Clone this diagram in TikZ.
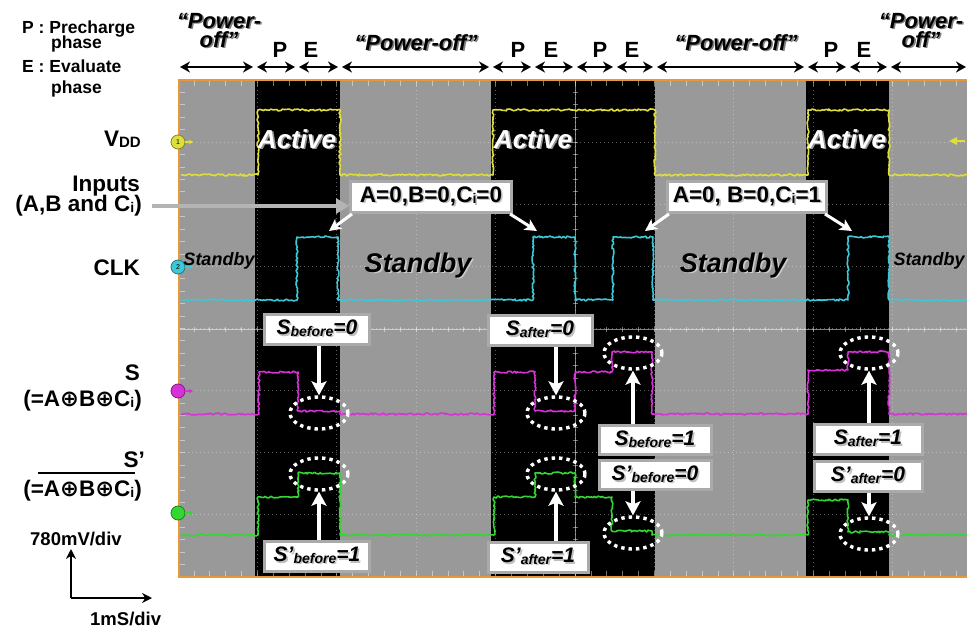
\documentclass[tikz,border=0pt]{standalone}
\usepackage{fontspec}
\setmainfont{Liberation Sans}
\newfontfamily\symfont{DejaVu Sans}
\usetikzlibrary{arrows.meta,decorations.pathmorphing,shapes.geometric}

\definecolor{scopegray}{RGB}{153,153,153}
\definecolor{frameorange}{RGB}{232,152,56}
\definecolor{tyellow}{RGB}{222,222,60}
\definecolor{tcyan}{RGB}{60,200,215}
\definecolor{tmag}{RGB}{215,50,215}
\definecolor{tgreen}{RGB}{50,215,50}
\definecolor{boxedge}{RGB}{170,170,170}
\definecolor{inarrow}{RGB}{180,180,180}

\newcommand\fsz[1]{\fontsize{#1}{#1}\selectfont}
% text with a soft drop shadow to the lower right
\newcommand\shd[2][gray]{\rlap{\kern1.6pt\raisebox{-1.6pt}{\textcolor{#1}{#2}}}#2}
\newcommand\sub[1]{\raisebox{-1.5pt}{\fsz{14}#1}}
\newcommand\opl{{\symfont\bfseries ⊕}}

\begin{document}
\begin{tikzpicture}[x=1pt,y=-1pt,
  trace/.style={line width=1.6pt,line join=round,decorate,
    decoration={random steps,segment length=1.8pt,amplitude=1pt}},
  gridline/.style={white,opacity=0.35,line width=0.8pt,dash pattern=on 1pt off 3pt},
  tickmark/.style={white,opacity=0.45,line width=0.7pt},
  toparrow/.style={line width=2.8pt,{Stealth[length=10pt,width=11pt]}-{Stealth[length=10pt,width=11pt]}},
  lbl/.style={inner sep=0pt,font=\bfseries\fsz{22.5}},
  small/.style={inner sep=0pt,font=\bfseries\fsz{17.5}},
  poff/.style={inner sep=0pt,font=\bfseries\itshape\fsz{22}},
  pe/.style={inner sep=0pt,font=\bfseries\fsz{22}},
  active/.style={inner sep=0pt,text=white,font=\bfseries\itshape\fsz{26}},
  standby/.style={inner sep=0pt,font=\bfseries\itshape\fsz{27}},
  standbysm/.style={inner sep=0pt,font=\bfseries\itshape\fsz{18}},
  lbox/.style={fill=white,draw=boxedge,line width=3pt,inner sep=0pt,
    minimum height=30pt,font=\bfseries\itshape\fsz{21}},
  inbox/.style={fill=white,draw=boxedge,line width=3pt,inner sep=0pt,
    minimum height=31pt,font=\bfseries\fsz{22.5}},
  ring/.style={ellipse,draw=white,line width=3.4pt,dash pattern=on 3.4pt off 4pt,
    minimum width=58pt,minimum height=32pt,inner sep=0pt},
  warrow/.style={white,line width=3.8pt,-{Stealth[length=14pt,width=15pt,inset=3pt]}},
  warrowsm/.style={white,line width=3pt,-{Stealth[length=12pt,width=12pt,inset=3pt]}},
  marker/.style={circle,draw=#1!60!black,fill=#1,line width=0.8pt,minimum size=14pt,
    inner sep=0pt,font=\fsz{7}},
  tail/.style={#1,line width=1.5pt,-{Latex[length=4pt,width=5pt]}}
]
\pgfmathsetseed{7}
\useasboundingbox (0,0) rectangle (967,629);
\fill[white] (0,0) rectangle (967,629);

% ---------- oscilloscope screen ----------
\fill[scopegray] (178,80) rectangle (967,577);
\fill[black] (255,81) rectangle (340,576);
\fill[black] (491,81) rectangle (655,576);
\fill[black] (806,81) rectangle (889,576);

% graticule
\foreach \k in {1,...,9} \draw[gridline] ({178+79.4*\k},82) -- ({178+79.4*\k},575);
\foreach \k in {1,...,7} \draw[gridline] (180,{80+62.1*\k}) -- (967,{80+62.1*\k});
\draw[white,opacity=0.5,line width=0.8pt] (575,81) -- (575,576);
\draw[white,opacity=0.5,line width=0.8pt] (180,329) -- (967,329);
\foreach \k in {1,...,49} {
  \draw[tickmark] ({178+15.88*\k},326.5) -- ++(0,5);
  \draw[tickmark] ({178+15.88*\k},81) -- ++(0,5);
  \draw[tickmark] ({178+15.88*\k},576) -- ++(0,-5);
}
\foreach \k in {1,...,39} {
  \draw[tickmark] (572.5,{80+12.42*\k}) -- ++(5,0);
  \draw[tickmark] (180,{80+12.42*\k}) -- ++(5,0);
}

% traces
\draw[trace,tyellow] (181,175) -- (258,175) -- (258,110) -- (340,110) -- (340,175)
  -- (493,175) -- (493,110) -- (655,110) -- (655,175) -- (808,175) -- (808,110)
  -- (889,110) -- (889,175) -- (967,175);
\draw[trace,tcyan] (181,300) -- (297,300) -- (297,237) -- (338,237) -- (338,300)
  -- (533,300) -- (533,237) -- (575,237) -- (575,300) -- (613,300) -- (613,237)
  -- (653,237) -- (653,300) -- (848,300) -- (848,237) -- (889,237) -- (889,300)
  -- (967,300);
\draw[trace,tmag] (181,414) -- (259,414) -- (259,372) -- (298,372) -- (298,411)
  -- (340,411) -- (340,414) -- (494,414) -- (494,372) -- (535,372) -- (535,411)
  -- (575,411) -- (575,372) -- (612,372) -- (612,352) -- (652,352) -- (652,414)
  -- (808,414) -- (808,370) -- (848,370) -- (848,352) -- (889,352) -- (889,414)
  -- (967,414);
\draw[trace,tgreen] (181,535) -- (258,535) -- (258,497) -- (298,497) -- (298,473)
  -- (340,473) -- (340,535) -- (494,535) -- (494,497) -- (535,497) -- (535,473)
  -- (575,473) -- (575,497) -- (612,497) -- (612,531) -- (652,531) -- (652,535)
  -- (808,535) -- (808,500) -- (848,500) -- (848,532) -- (889,532) -- (889,535)
  -- (967,535);

% trigger level mark
\fill[tyellow] (949,141) -- (957,137) -- (957,145) -- cycle;
\draw[tyellow,line width=1.2pt] (956,141) -- (965,141);

% frame
\draw[frameorange,line width=2.6pt] (967,80) -- (179,80) -- (179,577) -- (967,577);

% channel markers
\node[marker=tyellow] (m1) at (178,142) {1};
\node[marker=tcyan] (m2) at (178,267) {2};
\node[marker=tmag] (m3) at (178,391) {};
\node[marker=tgreen] (m4) at (178,513) {};
\draw[tail=tyellow] (m1.east) -- ++(8,0);
\draw[tail=tcyan] (m2.east) -- ++(8,0);
\draw[tail=tmag] (m3.east) -- ++(8,0);
\draw[tail=tgreen] (m4.east) -- ++(8,0);

% ---------- phase timeline ----------
\foreach \a/\b in {180/253,257/295,299/338,342/489,493/531,535/573,577/613,617/653,
  657/804,808/846,850/887,891/966}
  \draw[toparrow] (\a,67) -- (\b,67);

\node[poff,align=center,anchor=base] (po1) at (219,47)
  {\shd{“Power-}\\[-3pt]\shd{off”}};
\node[poff,anchor=base] (po2) at (416,50) {\shd{“Power-off”}};
\node[poff,anchor=base] (po3) at (736,50) {\shd{“Power-off”}};
\node[poff,align=center,anchor=base] (po4) at (921,47)
  {\shd{“Power-}\\[-3pt]\shd{off”}};

\node[pe,anchor=base] (p1) at (280,57) {P};
\node[pe,anchor=base] (e1t) at (311,57) {E};
\node[pe,anchor=base] (p2) at (518,57) {P};
\node[pe,anchor=base] (e2t) at (551,57) {E};
\node[pe,anchor=base] (p3) at (600,57) {P};
\node[pe,anchor=base] (e3t) at (632,57) {E};
\node[pe,anchor=base] (p4) at (831,57) {P};
\node[pe,anchor=base] (e4t) at (864,57) {E};

% ---------- legend and channel names ----------
\node[small,align=left,anchor=base west] (legend) at (22,93)
  {P : Precharge\\[-2pt]\hspace*{29pt}phase\\[6pt]E : Evaluate\\[3.5pt]\hspace*{29pt}phase};

\node[lbl,anchor=base east] (vdd) at (141,146) {V\raisebox{-1pt}{\fsz{15}DD}};
\node[lbl,align=right,anchor=base east] (inp) at (142,211)
  {Inputs\hspace*{2pt}\\[-3pt](A,B and C\sub{i})};
\node[lbl,anchor=base east] (clk) at (140,275) {CLK};
\node[lbl,align=right,anchor=base east] (s1) at (142,406)
  {S\hspace*{2pt}\\[3.5pt](=A\opl B\opl C\sub{i})};
\node[lbl,align=right,anchor=base east] (sp1) at (142,496)
  {S’\hspace*{-3pt}\\[6.5pt](=A\opl B\opl C\sub{i})};
\draw[line width=1.8pt] (38,473) -- (135,473);

\node[small,font=\bfseries\fsz{18.5},anchor=base west] (vdiv) at (30,545) {780mV/div};
\node[small,font=\bfseries\fsz{18.5},anchor=base west] (hdiv) at (90,625) {1mS/div};
\coordinate (ax0) at (71,598);
\draw[line width=2.6pt,-{Stealth[length=10pt,width=10pt]}] (ax0) -- (71,549);
\draw[line width=2.6pt,-{Stealth[length=10pt,width=10pt]}] (ax0) -- (152,598);

% ---------- state labels on the screen ----------
\node[active,anchor=base] (act1) at (297,148) {\shd[gray!80]{Active}};
\node[active,anchor=base] (act2) at (533,148) {\shd[gray!80]{Active}};
\node[active,anchor=base] (act3) at (847,148) {\shd[gray!80]{Active}};

\node[standby,anchor=base] (sb1t) at (418,272) {\shd[white!60!gray]{Standby}};
\node[standby,anchor=base] (sb2t) at (733,272) {\shd[white!60!gray]{Standby}};
\node[standbysm,anchor=base] (sbl) at (219,265) {Standby};
\node[standbysm,anchor=base] (sbr) at (929,265) {Standby};

% input condition boxes
\node[inbox,minimum width=161pt] (in1) at (431,197) {\shd[gray!50]{A=0,B=0,C\sub{i}=0}};
\node[inbox,minimum width=159pt] (in2) at (747,197) {\shd[gray!50]{A=0, B=0,C\sub{i}=1}};
\coordinate (c1) at (329,231);
\coordinate (c2) at (537,231);
\coordinate (c3) at (645,231);
\coordinate (c4) at (852,231);
\draw[warrowsm] ([xshift=3pt]in1.south west) -- (c1);
\draw[warrowsm] ([xshift=-3pt]in1.south east) -- (c2);
\draw[warrowsm] ([xshift=3pt]in2.south west) -- (c3);
\draw[warrowsm] ([xshift=-3pt]in2.south east) -- (c4);
\coordinate (inStart) at (152,206);
\draw[inarrow,line width=4pt,-{Triangle[length=13pt,width=15pt]}]
  (inStart) -- (in1.west |- inStart);

% highlighted output levels
\node[ring] (r1) at (319,413) {};
\node[ring] (r2) at (319,474) {};
\node[ring] (r3) at (556,413) {};
\node[ring] (r4) at (556,474) {};
\node[ring] (r5) at (633,353) {};
\node[ring] (r6) at (633,533) {};
\node[ring] (r7) at (869,353) {};
\node[ring] (r8) at (869,534) {};

% output value boxes
\node[lbox,minimum width=105pt] (bsb0) at (317,329) {\shd[gray!50]{S\sub{before}=0}};
\node[lbox,minimum width=105pt] (bspb1) at (317,556) {\shd[gray!50]{S’\sub{before}=1}};
\node[lbox,minimum width=104pt] (bsa0) at (540,330) {\shd[gray!50]{S\sub{after}=0}};
\node[lbox,minimum width=100pt] (bspa1) at (538,557) {\shd[gray!50]{S’\sub{after}=1}};
\node[lbox,minimum width=112pt,minimum height=29pt] (bsb1) at (655,440) {\shd[gray!50]{S\sub{before}=1}};
\node[lbox,minimum width=112pt,minimum height=29pt] (bspb0) at (655,475) {\shd[gray!50]{S’\sub{before}=0}};
\node[lbox,minimum width=108pt] (bsa1) at (868,439) {\shd[gray!50]{S\sub{after}=1}};
\node[lbox,minimum width=108pt] (bspa0) at (868,476) {\shd[gray!50]{S’\sub{after}=0}};

\draw[warrow] (r1.north |- bsb0.south) -- (r1.north);
\draw[warrow] (r2.south |- bspb1.north) -- (r2.south);
\draw[warrow] (r3.north |- bsa0.south) -- (r3.north);
\draw[warrow] (r4.south |- bspa1.north) -- (r4.south);
\draw[warrow] (r5.south |- bsb1.north) -- (r5.south);
\draw[warrow] (r6.north |- bspb0.south) -- (r6.north);
\draw[warrow] (r7.south |- bsa1.north) -- (r7.south);
\draw[warrow] (r8.north |- bspa0.south) -- (r8.north);
\end{tikzpicture}
\end{document}
